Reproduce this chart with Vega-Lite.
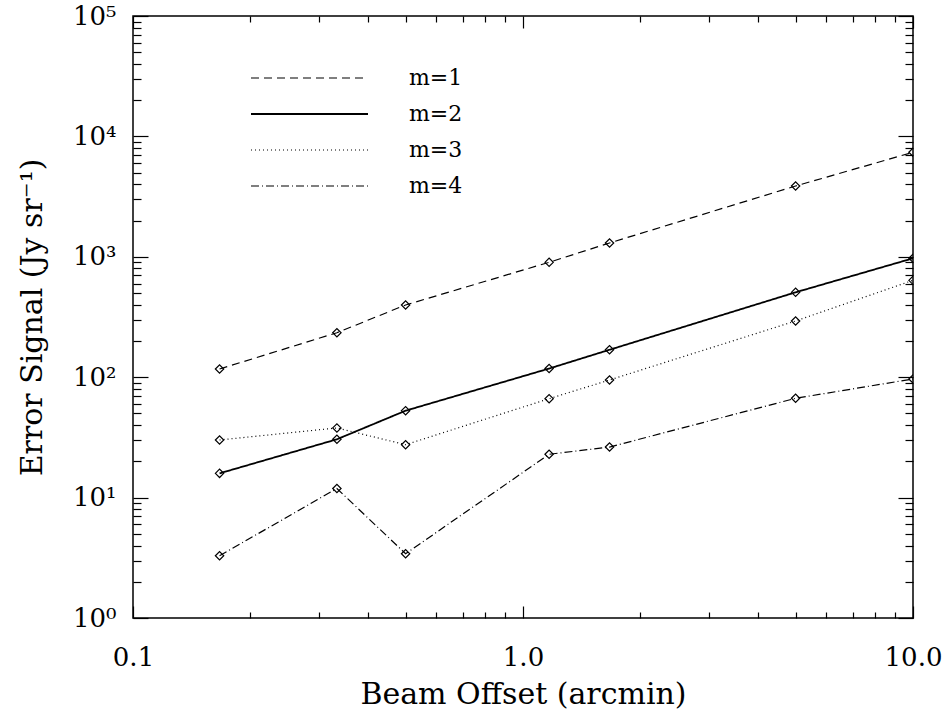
{
  "$schema": "https://vega.github.io/schema/vega-lite/v6.json",
  "width": 780,
  "height": 602,
  "autosize": {"type": "none"},
  "padding": {"left": 133, "top": 16, "right": 39, "bottom": 92},
  "background": "white",
  "config": {
    "view": {"stroke": "black", "strokeWidth": 1.5},
    "font": "DejaVu Serif"
  },
  "data": {
    "values": [
      {"offset": 0.1667, "signal": 117, "m": "m=1"},
      {"offset": 0.3333, "signal": 234, "m": "m=1"},
      {"offset": 0.5, "signal": 398, "m": "m=1"},
      {"offset": 1.1667, "signal": 900, "m": "m=1"},
      {"offset": 1.6667, "signal": 1303, "m": "m=1"},
      {"offset": 5, "signal": 3873, "m": "m=1"},
      {"offset": 10, "signal": 7380, "m": "m=1"},
      {"offset": 0.1667, "signal": 15.9, "m": "m=2"},
      {"offset": 0.3333, "signal": 30.5, "m": "m=2"},
      {"offset": 0.5, "signal": 52.7, "m": "m=2"},
      {"offset": 1.1667, "signal": 118, "m": "m=2"},
      {"offset": 1.6667, "signal": 169, "m": "m=2"},
      {"offset": 5, "signal": 507, "m": "m=2"},
      {"offset": 10, "signal": 972, "m": "m=2"},
      {"offset": 0.1667, "signal": 30.1, "m": "m=3"},
      {"offset": 0.3333, "signal": 37.9, "m": "m=3"},
      {"offset": 0.5, "signal": 27.5, "m": "m=3"},
      {"offset": 1.1667, "signal": 66.3, "m": "m=3"},
      {"offset": 1.6667, "signal": 94.8, "m": "m=3"},
      {"offset": 5, "signal": 293, "m": "m=3"},
      {"offset": 10, "signal": 638, "m": "m=3"},
      {"offset": 0.1667, "signal": 3.29, "m": "m=4"},
      {"offset": 0.3333, "signal": 11.9, "m": "m=4"},
      {"offset": 0.5, "signal": 3.42, "m": "m=4"},
      {"offset": 1.1667, "signal": 22.9, "m": "m=4"},
      {"offset": 1.6667, "signal": 26.3, "m": "m=4"},
      {"offset": 5, "signal": 66.8, "m": "m=4"},
      {"offset": 10, "signal": 96.7, "m": "m=4"}
    ]
  },
  "resolve": {"axis": {"x": "independent", "y": "independent"}},
  "layer": [
    {
      "mark": {"type": "line", "color": "black", "clip": true},
      "encoding": {
        "x": {
          "field": "offset", "type": "quantitative",
          "scale": {"type": "log", "domain": [0.1, 10], "nice": false},
          "axis": {
            "orient": "bottom",
            "title": "Beam Offset (arcmin)",
            "titleFont": "DejaVu Serif", "titleFontSize": 30, "titleFontWeight": "normal", "titleColor": "black",
            "titleX": 390, "titleY": 85, "titleAlign": "center", "titleBaseline": "alphabetic",
            "values": [0.1, 0.2, 0.3, 0.4, 0.5, 0.6, 0.7, 0.8, 0.9, 1, 2, 3, 4, 5, 6, 7, 8, 9, 10],
            "labelExpr": "datum.value == 0.1 ? '0.1' : datum.value == 1 ? '1.0' : datum.value == 10 ? '10.0' : ''",
            "labelFont": "DejaVu Serif", "labelFontSize": 26, "labelColor": "black",
            "labelPadding": 38, "labelBaseline": "top", "labelFlush": false, "labelOverlap": false,
            "domain": false, "grid": false,
            "tickColor": "black", "tickWidth": 1.2,
            "tickSize": {"condition": {"test": "datum.value == 0.1 || datum.value == 1 || datum.value == 10", "value": -12}, "value": -6}
          }
        },
        "y": {
          "field": "signal", "type": "quantitative",
          "scale": {"type": "log", "domain": [1, 100000], "nice": false},
          "axis": {
            "orient": "left",
            "title": "Error Signal (Jy sr⁻¹)",
            "titleFont": "DejaVu Serif", "titleFontSize": 30, "titleFontWeight": "normal", "titleColor": "black",
            "titleX": -101, "titleY": 301, "titleAngle": -90, "titleAlign": "center", "titleBaseline": "middle",
            "values": [1, 2, 3, 4, 5, 6, 7, 8, 9, 10, 20, 30, 40, 50, 60, 70, 80, 90, 100, 200, 300, 400, 500, 600, 700, 800, 900, 1000, 2000, 3000, 4000, 5000, 6000, 7000, 8000, 9000, 10000, 20000, 30000, 40000, 50000, 60000, 70000, 80000, 90000, 100000],
            "labelExpr": "datum.value == 1 ? '10⁰' : datum.value == 10 ? '10¹' : datum.value == 100 ? '10²' : datum.value == 1000 ? '10³' : datum.value == 10000 ? '10⁴' : datum.value == 100000 ? '10⁵' : ''",
            "labelFont": "DejaVu Serif", "labelFontSize": 26, "labelColor": "black",
            "labelPadding": 32, "labelBaseline": "middle", "labelFlush": false, "labelOverlap": false,
            "domain": false, "grid": false,
            "tickColor": "black", "tickWidth": 1.2,
            "tickSize": {"condition": {"test": "datum.value == 1 || datum.value == 10 || datum.value == 100 || datum.value == 1000 || datum.value == 10000 || datum.value == 100000", "value": -15}, "value": -8}
          }
        },
        "strokeDash": {
          "field": "m", "type": "nominal",
          "scale": {"domain": ["m=1", "m=2", "m=3", "m=4"], "range": [[8, 5], [1, 0], [1, 3], [8, 3, 1, 3]]},
          "legend": {
            "title": null, "orient": "none", "legendX": 117, "legendY": 44,
            "symbolType": "stroke", "symbolSize": 13689, "symbolStrokeColor": "black", "symbolStrokeWidth": 1.3,
            "clipHeight": 36, "rowPadding": 0, "labelOffset": 40,
            "labelFont": "DejaVu Serif", "labelFontSize": 22, "labelColor": "black"
          }
        },
        "strokeWidth": {
          "field": "m", "type": "nominal",
          "scale": {"type": "ordinal", "domain": ["m=1", "m=2", "m=3", "m=4"], "range": [1.2, 1.8, 1.2, 1.2]},
          "legend": null
        }
      }
    },
    {
      "mark": {"type": "point", "shape": "diamond", "filled": false, "size": 70, "color": "black", "strokeWidth": 1.2, "opacity": 1, "clip": true},
      "encoding": {
        "x": {
          "field": "offset", "type": "quantitative",
          "scale": {"type": "log", "domain": [0.1, 10], "nice": false},
          "axis": {
            "orient": "top", "title": null, "labels": false, "domain": false, "grid": false,
            "values": [0.1, 0.2, 0.3, 0.4, 0.5, 0.6, 0.7, 0.8, 0.9, 1, 2, 3, 4, 5, 6, 7, 8, 9, 10],
            "tickColor": "black", "tickWidth": 1.2,
            "tickSize": {"condition": {"test": "datum.value == 0.1 || datum.value == 1 || datum.value == 10", "value": -12}, "value": -6}
          }
        },
        "y": {
          "field": "signal", "type": "quantitative",
          "scale": {"type": "log", "domain": [1, 100000], "nice": false},
          "axis": {
            "orient": "right", "title": null, "labels": false, "domain": false, "grid": false,
            "values": [1, 2, 3, 4, 5, 6, 7, 8, 9, 10, 20, 30, 40, 50, 60, 70, 80, 90, 100, 200, 300, 400, 500, 600, 700, 800, 900, 1000, 2000, 3000, 4000, 5000, 6000, 7000, 8000, 9000, 10000, 20000, 30000, 40000, 50000, 60000, 70000, 80000, 90000, 100000],
            "tickColor": "black", "tickWidth": 1.2,
            "tickSize": {"condition": {"test": "datum.value == 1 || datum.value == 10 || datum.value == 100 || datum.value == 1000 || datum.value == 10000 || datum.value == 100000", "value": -15}, "value": -8}
          }
        }
      }
    }
  ]
}
